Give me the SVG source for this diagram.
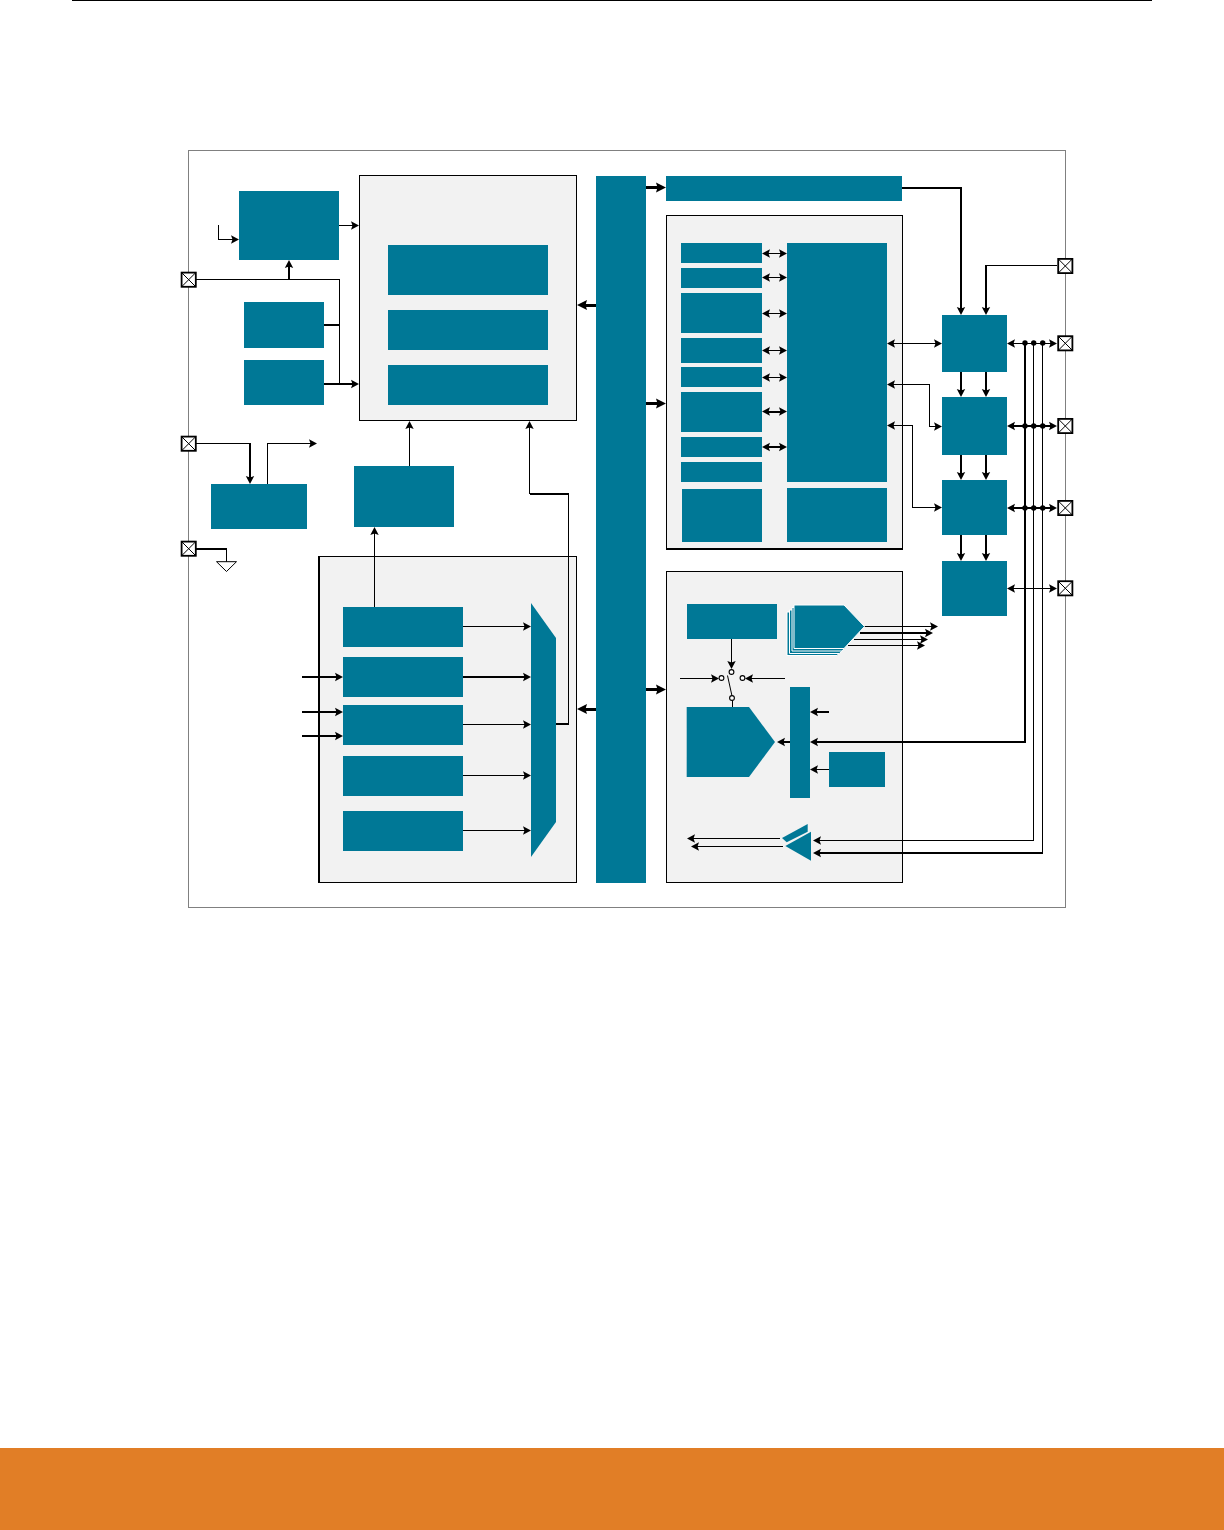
<svg xmlns="http://www.w3.org/2000/svg" xmlns:xlink="http://www.w3.org/1999/xlink" width="1224" height="1530" viewBox="0 0 1224 1530">
<style>
.b{fill:#007896}
.p{fill:#f2f2f2;stroke:#000;stroke-width:1}
.l,.t,.T,.ln,.tn{fill:none;stroke:#000;shape-rendering:crispEdges}
.l,.ln{stroke-width:1}
.t,.tn{stroke-width:2}
.T{stroke-width:3;marker-end:url(#A)}
.l,.t{marker-end:url(#a)}
.d{marker-start:url(#a)}
.c{fill:#fff;stroke:#000;stroke-width:1.1}
</style>
<defs>
<marker id="a" markerUnits="userSpaceOnUse" markerWidth="10" markerHeight="10" viewBox="-1 -5 10 10" refX="5" refY="0" orient="auto-start-reverse"><path d="M0,-4.200 8,0 0,4.200 1.500,0z" fill="#000"/></marker>
<marker id="A" markerUnits="userSpaceOnUse" markerWidth="12" markerHeight="12" viewBox="-1 -6 12 12" refX="5" refY="0" orient="auto"><path d="M0,-5 10,0 0,5 1.500,0z" fill="#000"/></marker>
<g id="pad"><rect x="-7.100" y="-7.100" width="14.200" height="14.200" fill="#fff" stroke="#000" stroke-width="1.800"/><path d="M-7,-7 7,7M7,-7 -7,7" stroke="#000" stroke-width="1" fill="none"/></g>
</defs>
<rect id="page-rule" x="72" y="0" width="1080" height="1" fill="#000"/>
<rect id="footer" x="0" y="1448" width="1224" height="82" fill="#e17e26"/>
<rect id="chip-outline" x="188.500" y="150.500" width="877" height="757" fill="#fff" stroke="#808080" stroke-width="1"/>

<g id="cpu-panel"><rect class="p" x="359.500" y="175.500" width="217" height="245"/><rect class="b" x="388" y="245" width="160" height="50"/><rect class="b" x="388" y="310" width="160" height="40"/><rect class="b" x="388" y="365" width="160" height="40"/></g>
<g id="adc-panel"><rect class="p" x="319" y="556.500" width="257.500" height="326"/><path d="M319,556V883" stroke="#000" stroke-width="2"/></g>
<g id="periph-panel"><rect class="p" x="666.500" y="215.500" width="236" height="333.500"/><path d="M666,549H903" stroke="#000" stroke-width="2"/></g>
<g id="analog-panel"><rect class="p" x="666.500" y="571.500" width="236" height="311"/></g>

<g id="connectors">
<path class="l" d="M218.500,225V239.500H236"/>
<path class="l" d="M339,225.500H356"/>
<path class="ln" d="M196,279.500H339.500V384"/>
<path class="t" d="M289,280V263"/>
<path class="tn" d="M324,325H340"/>
<path class="t" d="M324,384H356"/>
<path class="ln" d="M196,443.500H250"/>
<path class="t" d="M250,443V481"/>
<path class="l" d="M267.500,484V443.500H314"/>
<path class="tn" d="M196,549H227"/>
<path class="ln" d="M226.500,549V562"/>
<path class="l" d="M409.500,466V424"/>
<path class="l" d="M374.500,607V530"/>
<path class="tn" d="M556,724H569"/>
<path class="ln" d="M568.500,724V494"/>
<path class="tn" d="M568.500,494H529.500"/>
<path class="l" d="M529.500,494V424"/>
<path class="t" d="M463,677H528"/>
<path class="l" d="M463,626.500H528"/>
<path class="l" d="M463,724.500H528"/>
<path class="l" d="M463,775.500H528"/>
<path class="l" d="M463,830.500H528"/>
<path class="t" d="M302,677H340"/>
<path class="t" d="M302,712H340"/>
<path class="t" d="M302,736H340"/>
<path class="T" d="M596,305H582"/>
<path class="T" d="M596,709H582"/>
<path class="T" d="M646,187.500H661"/>
<path class="T" d="M646,403.500H661"/>
<path class="T" d="M646,689.500H661"/>
<path class="t" d="M902,188H961V312"/>
<path class="ln" d="M1057,265.500H986"/>
<path class="t" d="M986,265V312"/>
<path class="l d" d="M765,253.500H784"/>
<path class="l d" d="M765,277.500H784"/>
<path class="l d" d="M765,313.500H784"/>
<path class="l d" d="M765,350.500H784"/>
<path class="l d" d="M765,377.500H784"/>
<path class="t d" d="M765,411.500H784"/>
<path class="t d" d="M765,447H784"/>
<path class="l d" d="M890,343.500H939"/>
<path class="l d" d="M890,384.500H929.500V426.500H939"/>
<path class="l d" d="M890,425.500H912.500V507.500H939"/>
<path class="t" d="M961,372V394"/><path class="t" d="M986,372V394"/>
<path class="t" d="M961,455V477"/><path class="t" d="M986,455V477"/>
<path class="t" d="M961,535V558"/><path class="t" d="M986,535V558"/>
<path class="l d" d="M1010,343.500H1054"/>
<path class="t d" d="M1010,426H1054"/>
<path class="t d" d="M1010,508H1054"/>
<path class="l d" d="M1010,588.500H1054"/>
<path class="t" d="M1025,343V742H813"/>
<path class="l" d="M1033.500,343V840.500H816"/>
<path class="ln" d="M1042.500,343V853"/>
<path class="t" d="M1043,853H816"/>
<path class="l" d="M864,626.500H935"/>
<path class="t" d="M860,633H930"/>
<path class="l" d="M854,639.500H925"/>
<path class="l" d="M848,645.500H922"/>
<path class="l" d="M731.500,639V666"/>
<path class="l" d="M680,678.500H716"/>
<path class="l" d="M785,678.500H748"/>
<path class="ln" d="M727.500,675.500 732,696" style="shape-rendering:auto"/>
<path class="ln" d="M732.500,700V707"/>
<path class="t" d="M829,712H813"/>
<path class="t" d="M790,742H780"/>
<path class="l" d="M829,769.500H813"/>
<path class="l" d="M780,838.500H690"/>
<path class="l" d="M783,846.500H694"/>
<circle cx="1025" cy="343" r="2.700"/><circle cx="1033.700" cy="343" r="2.700"/><circle cx="1042.700" cy="343" r="2.700"/>
<circle cx="1025" cy="426" r="2.700"/><circle cx="1033.700" cy="426" r="2.700"/><circle cx="1042.700" cy="426" r="2.700"/>
<circle cx="1025" cy="508" r="2.700"/><circle cx="1033.700" cy="508" r="2.700"/><circle cx="1042.700" cy="508" r="2.700"/>
<circle class="c" cx="731.500" cy="672" r="2.400"/><circle class="c" cx="721.500" cy="678" r="2.400"/><circle class="c" cx="742.500" cy="678" r="2.400"/><circle class="c" cx="732" cy="698" r="2.400"/>
</g>

<rect id="block-pll" class="b" x="239" y="191" width="100" height="69"/>
<rect id="block-osc1" class="b" x="244" y="302" width="80" height="46"/>
<rect id="block-osc2" class="b" x="244" y="360" width="80" height="45"/>
<rect id="block-reg" class="b" x="211" y="484" width="96" height="45"/>
<rect id="block-ctl" class="b" x="354" y="466" width="100" height="61"/>
<g id="ground"><path d="M216.500,561.700H236.500L226.500,571.500z" fill="#fff" stroke="#000" stroke-width="1"/></g>
<g id="adc-blocks">
<rect class="b" x="343" y="607" width="120" height="40"/><rect class="b" x="343" y="657" width="120" height="40"/><rect class="b" x="343" y="705" width="120" height="40"/><rect class="b" x="343" y="756" width="120" height="40"/><rect class="b" x="343" y="811" width="120" height="40"/>
<path class="b" d="M531,603 556,638V822L531,857z"/>
</g>
<rect id="bus" class="b" x="596" y="176" width="50" height="707"/>
<rect id="bar-top" class="b" x="666" y="176" width="236" height="25"/>
<g id="periph-blocks">
<rect class="b" x="681" y="243" width="81" height="20"/><rect class="b" x="681" y="268" width="81" height="20"/><rect class="b" x="681" y="293" width="81" height="40"/><rect class="b" x="681" y="338" width="81" height="25"/><rect class="b" x="681" y="367" width="81" height="20"/><rect class="b" x="681" y="392" width="81" height="40"/><rect class="b" x="681" y="437" width="81" height="20"/><rect class="b" x="681" y="462" width="81" height="20"/><rect class="b" x="682" y="489" width="80" height="53"/>
<rect class="b" x="787" y="243" width="100" height="239"/><rect class="b" x="787" y="488" width="100" height="54"/>
</g>
<rect id="port-a" class="b" x="942" y="315" width="65" height="57"/>
<rect id="port-b" class="b" x="942" y="397" width="65" height="58"/>
<rect id="port-c" class="b" x="942" y="480" width="65" height="55"/>
<rect id="port-d" class="b" x="942" y="561" width="65" height="55"/>
<g id="analog-blocks">
<rect class="b" x="687" y="604" width="90" height="35"/>
<g id="dac-stack" stroke="#fff" stroke-width="1"><path class="b" d="M787,612H837L857,633.500 837,655.500H787z"/><path class="b" d="M789.500,610H839.500L859.500,631.500 839.500,653.500H789.500z"/><path class="b" d="M792,607.500H842L862,629 842,651H792z"/><path class="b" d="M794,605H844L864.500,626.500 844,648.500H794z"/></g>
<path class="b" d="M686.700,707H749L775,742 749,777H686.700z"/>
<rect class="b" x="790" y="687" width="20" height="111"/>
<rect class="b" x="829" y="752" width="56" height="35"/>
<path class="b" d="M782,838 807.700,824V831.700L786.700,842.300z"/>
<path class="b" d="M785.300,846 811,831.700V860.700z"/>
</g>
<g id="pads">
<use xlink:href="#pad" href="#pad" x="188.700" y="279.700"/><use xlink:href="#pad" href="#pad" x="188.700" y="443.700"/><use xlink:href="#pad" href="#pad" x="188.700" y="548.700"/>
<use xlink:href="#pad" href="#pad" x="1065.300" y="266"/><use xlink:href="#pad" href="#pad" x="1065.300" y="343.300"/><use xlink:href="#pad" href="#pad" x="1065.300" y="426"/><use xlink:href="#pad" href="#pad" x="1065.300" y="508"/><use xlink:href="#pad" href="#pad" x="1065.300" y="588.300"/>
</g>
</svg>
